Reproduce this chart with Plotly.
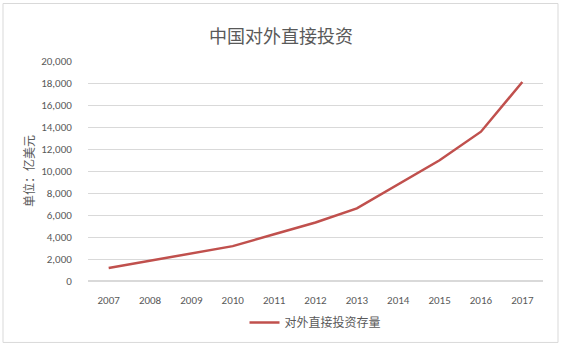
import plotly.graph_objects as go

years = ["2007", "2008", "2009", "2010", "2011", "2012", "2013", "2014", "2015", "2016", "2017"]
stock = [1179.1, 1839.7, 2457.5, 3172.1, 4247.8, 5319.4, 6604.8, 8826.4, 10978.6, 13573.9, 18090.4]
series_name = "对外直接投资存量"
title_text = "中国对外直接投资"
y_title = "单位：亿美元"

FONT = "Microsoft YaHei, Noto Sans CJK SC, sans-serif"
NUMFONT = "Calibri, Lato, sans-serif"
GREY = "#595959"

fig = go.Figure()
fig.add_trace(go.Scatter(
    x=years, y=stock, mode="lines", name=series_name,
    line=dict(color="#C0504D", width=2.5),
))

L, R, T, B = 88, 19, 61, 66
W, H = 562, 349
pw, ph = W - L - R, H - T - B

fig.update_layout(
    width=W, height=H,
    margin=dict(l=L, r=R, t=T, b=B),
    paper_bgcolor="white", plot_bgcolor="white",
    font=dict(family=FONT, color=GREY, size=11),
    title=dict(text=title_text, x=0.5, xanchor="center", y=1 - 37 / H, yanchor="middle",
               font=dict(size=18, color=GREY, family=FONT)),
    showlegend=True,
    legend=dict(orientation="h", x=0.5, xanchor="center", y=-(325 - 283) / ph, yanchor="middle",
                font=dict(size=12, color=GREY, family=FONT)),
    xaxis=dict(type="category", range=[-0.5, len(years) - 0.5], showgrid=False, showline=False,
               ticks="outside", ticklen=9, tickcolor="rgba(0,0,0,0)",
               tickfont=dict(size=11, color=GREY, family=NUMFONT), zeroline=False),
    yaxis=dict(range=[0, 20000], dtick=2000, tickformat=",d", showgrid=True,
               gridcolor="#D9D9D9", gridwidth=1, zeroline=True, zerolinecolor="#D9D9D9",
               showline=False, ticks="outside", ticklen=13, tickcolor="rgba(0,0,0,0)",
               tickfont=dict(size=11, color=GREY, family=NUMFONT)),
    annotations=[dict(text=y_title, xref="paper", yref="paper",
                      x=(28 - L) / pw, y=0.5, xanchor="center", yanchor="middle",
                      textangle=-90, showarrow=False,
                      font=dict(size=12, color=GREY, family=FONT))],
    shapes=[dict(type="rect", xref="paper", yref="paper",
                 x0=(3 - L) / pw, x1=(558 - L) / pw,
                 y0=(H - B - 345) / ph, y1=(H - B - 3) / ph,
                 line=dict(color="#D9D9D9", width=1), fillcolor="rgba(0,0,0,0)", layer="below")],
)

fig.write_html("out.html")
